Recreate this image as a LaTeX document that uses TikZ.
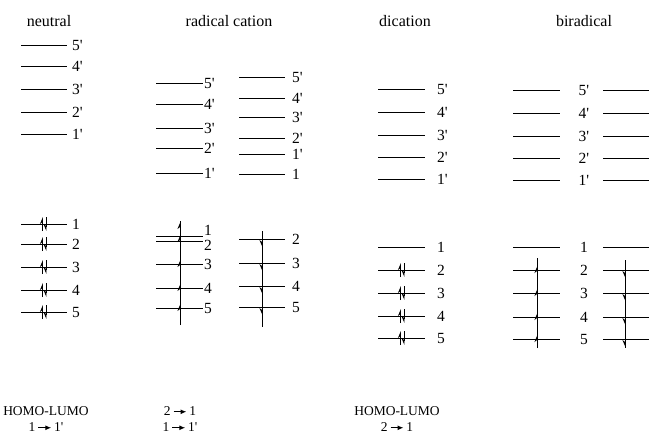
\documentclass[tikz,border=0pt]{standalone}
\usepackage{fontspec}
\setmainfont{Liberation Serif}
\usetikzlibrary{arrows.meta}
\newcommand{\excite}{\,\tikz[baseline=-0.6ex]\draw[line width=1.2pt,-{Latex[length=6pt,width=5pt]}] (0pt,0pt) -- (13pt,0pt);\,}
\newcommand{\pr}{\textquotesingle}

\begin{document}
\begin{tikzpicture}[x=1pt, y=-1pt,
    level/.style={line width=1pt},
    lbl/.style={anchor=west, inner sep=0pt, font=\fontsize{15.5}{15.5}\selectfont},
    clbl/.style={lbl, anchor=center},
    title/.style={inner sep=0pt, font=\fontsize{16}{16}\selectfont},
    note/.style={inner sep=0pt, align=center, font=\fontsize{13.5}{16}\selectfont},
    spin/.style={line width=0.8pt},
    upspin/.style={spin, -{Stealth[left,length=6pt,width=5pt]}},
    downspin/.style={spin, -{Stealth[right,length=6pt,width=5pt]}}]
  \useasboundingbox (0,0) rectangle (650,442);

  % titles
  \node[title] (neutral)  at (49,21)  {neutral};
  \node[title] (radcat)   at (229,21) {radical cation};
  \node[title] (dication) at (405,21) {dication};
  \node[title] (birad)    at (584,21) {biradical};

  % neutral
  \foreach \y/\t in {45/5\pr, 66/4\pr, 89/3\pr, 112/2\pr, 134/1\pr, 224/1, 244/2, 267/3, 290/4, 312/5} {
    \draw[level] (21,\y) -- (67,\y);
    \node[lbl] at (72,\y) {\t};
  }
  \foreach \y in {224, 244, 267, 290, 312} {
    \draw[upspin] (42.5,\y+7) -- (42.5,\y-7);
    \draw[downspin] (46,\y-7) -- (46,\y+7);
  }

  % radical cation, alpha
  \foreach \y/\t in {83/5\pr, 104/4\pr, 128/3\pr, 148/2\pr, 173/1\pr, 264/3, 288/4, 308/5} {
    \draw[level] (156,\y) -- (203,\y);
    \node[lbl] at (204,\y) {\t};
  }
  \draw[level] (156,236) -- (203,236);
  \draw[level] (156,241) -- (203,241);
  \node[lbl] at (204,230) {1};
  \node[lbl] at (204,245) {2};
  \draw[spin] (180,325) -- (180,221);
  \foreach \y in {226, 239, 264, 288, 308}
    \draw[upspin] (180,\y+3) -- (180,\y-4);

  % radical cation, beta
  \foreach \y/\t in {77/5\pr, 98/4\pr, 117/3\pr, 138/2\pr, 154/1\pr, 174/1, 239/2, 263/3, 286/4, 307/5} {
    \draw[level] (239,\y) -- (285,\y);
    \node[lbl] at (292,\y) {\t};
  }
  \draw[spin] (262,231) -- (262,327);
  \foreach \y in {239, 263, 286, 307}
    \draw[downspin] (262,\y) -- (262,\y+8);

  % dication
  \foreach \y/\t in {89/5\pr, 112/4\pr, 135/3\pr, 157/2\pr, 179/1\pr, 247/1, 270/2, 293/3, 316/4, 338/5} {
    \draw[level] (378,\y) -- (425,\y);
    \node[lbl] at (437,\y) {\t};
  }
  \foreach \y in {270, 293, 316, 338} {
    \draw[upspin] (400.5,\y+7) -- (400.5,\y-7);
    \draw[downspin] (404,\y-7) -- (404,\y+7);
  }

  % biradical
  \foreach \y/\t in {90/5\pr, 113/4\pr, 136/3\pr, 158/2\pr, 180/1\pr, 247/1, 270/2, 293/3, 317/4, 339/5} {
    \draw[level] (513,\y) -- (560,\y);
    \draw[level] (603,\y) -- (649,\y);
    \node[clbl] at (584,\y) {\t};
  }
  \draw[spin] (537,348) -- (537,258);
  \foreach \y in {270, 293, 317, 339}
    \draw[upspin] (537,\y+3) -- (537,\y-4);
  \draw[spin] (625,260) -- (625,348);
  \foreach \y in {270, 293, 317, 339}
    \draw[downspin] (625,\y) -- (625,\y+8);

  % transitions
  \node[note] (tneutral)  at (46,419)  {HOMO-LUMO\\1\excite1\pr};
  \node[note] (tradcat)   at (180,419) {2\excite1\\1\excite1\pr};
  \node[note] (tdication) at (397,419) {HOMO-LUMO\\2\excite1};
\end{tikzpicture}
\end{document}
